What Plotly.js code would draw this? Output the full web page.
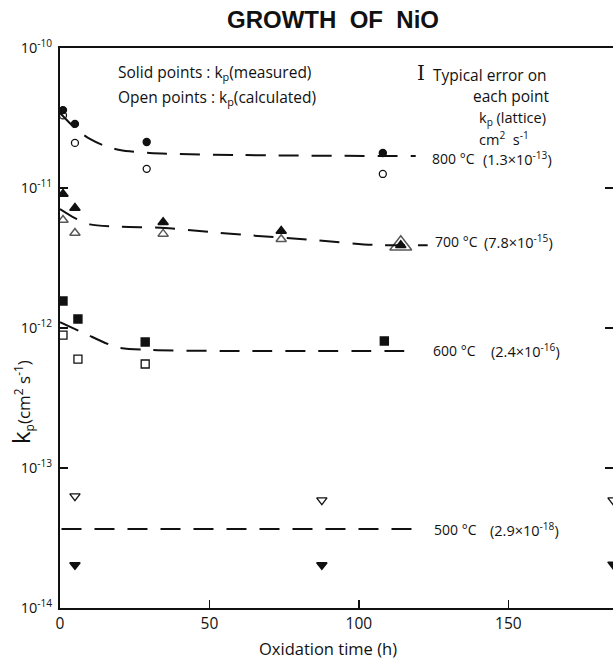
<!DOCTYPE html>
<html>
<head>
<meta charset="utf-8">
<script src="https://cdn.plot.ly/plotly-3.0.1.min.js"></script>
<style>html,body{margin:0;padding:0;background:#fff;}#chart{width:613px;height:660px;}</style>
</head>
<body>
<div id="chart"></div>
<script>
// ---- data ----
const t800_meas = [1, 5, 29, 108];
const k800_meas = [3.6e-11, 2.87e-11, 2.13e-11, 1.78e-11];
const t800_calc = [1, 5, 29, 108];
const k800_calc = [3.3e-11, 2.1e-11, 1.37e-11, 1.26e-11];
const fit800_t = [0, 5, 10, 15, 20, 30, 60, 119];
const fit800_k = [3.43e-11, 2.68e-11, 2.24e-11, 2.0e-11, 1.87e-11, 1.78e-11, 1.72e-11, 1.69e-11];

const t700_meas = [1, 5, 34.5, 74, 114];
const k700_meas = [9.06e-12, 7.2e-12, 5.7e-12, 4.93e-12, 3.9e-12];
const t700_calc = [1, 5, 34.5, 74, 114];
const k700_calc = [5.9e-12, 4.77e-12, 4.7e-12, 4.3e-12, 3.9e-12];
const fit700_t = [0, 5, 10, 20, 35, 50, 63, 85, 105, 123];
const fit700_k = [7.08e-12, 6.1e-12, 5.5e-12, 5.3e-12, 5.18e-12, 4.85e-12, 4.6e-12, 4.25e-12, 3.92e-12, 3.9e-12];

const t600_meas = [1, 6, 28.5, 108.5];
const k600_meas = [1.56e-12, 1.16e-12, 7.94e-13, 8.07e-13];
const t600_calc = [1, 6, 28.5];
const k600_calc = [8.9e-13, 6.0e-13, 5.53e-13];
const fit600_t = [0, 8, 19, 30, 60, 118.7];
const fit600_k = [1.1e-12, 9.2e-13, 7.3e-13, 6.97e-13, 6.85e-13, 6.85e-13];

const t500_meas = [5, 87.6, 185];
const k500_meas = [2.03e-14, 2.03e-14, 2.05e-14];
const t500_calc = [5, 87.6, 185];
const k500_calc = [6.3e-14, 5.9e-14, 5.9e-14];
const fit500_t = [0.5, 118];
const fit500_k = [3.67e-14, 3.67e-14];

const temps = ['800 °C', '700 °C', '600 °C', '500 °C'];
const latticeKp = ['(1.3×10<sup>-13</sup>)', '(7.8×10<sup>-15</sup>)', '(2.4×10<sup>-16</sup>)', '(2.9×10<sup>-18</sup>)'];
const yTickVals = [1e-10, 1e-11, 1e-12, 1e-13, 1e-14];
const yTickText = ['10<sup>-10</sup>', '10<sup>-11</sup>', '10<sup>-12</sup>', '10<sup>-13</sup>', '10<sup>-14</sup>'];
const xTickVals = [0, 50, 100, 150];

// ---- styling / geometry ----
const W = 613, H = 660, L = 60, R = 613, T = 48, B = 608;
const px = x => (x - L) / (R - L);
const py = y => (B - y) / (B - T);
const FONT = 'Open Sans, Lato, sans-serif';
const dashStyle = {color: '#111', width: 2, dash: '20px,13px'};

function fit(x, y) {
  return {x: x, y: y, mode: 'lines', line: Object.assign({shape: 'spline', smoothing: 0.8}, dashStyle), hoverinfo: 'skip', showlegend: false};
}
function pts(x, y, sym, size, lw) {
  return {x: x, y: y, mode: 'markers', showlegend: false,
    marker: {symbol: sym, size: size, color: '#111', line: {color: '#111', width: lw || 1.4}}};
}

const calc700 = pts(t700_calc, k700_calc, 'triangle-up-open', [9, 9, 9, 9, 19], 1.5);

const traces = [
  fit(fit800_t, fit800_k), fit(fit700_t, fit700_k), fit(fit600_t, fit600_k), fit(fit500_t, fit500_k),
  pts(t800_meas, k800_meas, 'circle', 7), pts(t800_calc, k800_calc, 'circle-open', 7, 1.3),
  pts(t700_meas, k700_meas, 'triangle-up', 9), calc700,
  pts(t600_meas, k600_meas, 'square', 8), pts(t600_calc, k600_calc, 'square-open', 8, 1.3),
  pts(t500_meas, k500_meas, 'triangle-down', 9), pts(t500_calc, k500_calc, 'triangle-down-open', 9, 1.3),
  {x: [0], y: [1e-12], yaxis: 'y2', mode: 'markers', marker: {opacity: 0}, hoverinfo: 'skip', showlegend: false}
];

function ann(text, x, y, opts) {
  return Object.assign({text: text, x: px(x), y: py(y), xref: 'paper', yref: 'paper', showarrow: false,
    xanchor: 'left', yanchor: 'middle', font: {family: FONT, size: 15.5, color: '#111'}}, opts || {});
}
const small = {family: FONT, size: 14.5, color: '#111'};

const labelY = [158, 241, 350, 529];
const tempX = [430, 433, 431, 432];
const valX = [481, 482, 489, 488];
const annotations = [
  ann('Solid points : k<sub>p</sub>(measured)', 116, 73),
  ann('Open points : k<sub>p</sub>(calculated)', 116, 97),
  ann('I', 415, 73, {font: {family: 'DejaVu Serif, serif', size: 20, color: '#111'}}),
  ann('Typical error on', 431, 75),
  ann('each point', 471, 96),
  ann('k<sub>p</sub> (lattice)', 477, 118, {font: small}),
  ann('cm<sup>2</sup>  s<sup>-1</sup>', 477, 138, {font: small}),
  ann('<span style="font-size:24px">k</span><sub>p</sub>(cm<sup>2</sup> s<sup>-1</sup>)', 20, 402,
      {xanchor: 'center', textangle: -90, font: {family: FONT, size: 17, color: '#111'}}),
  ann('Oxidation time (h)', 328, 648, {xanchor: 'center', font: {family: FONT, size: 16.5, color: '#111'}})
];
temps.forEach((t, i) => {
  annotations.push(ann(t, tempX[i], labelY[i], {font: {family: FONT, size: 14, color: '#111'}}));
  annotations.push(ann(latticeKp[i], valX[i], labelY[i], {font: {family: FONT, size: 14.5, color: '#111'}}));
});

const layout = {
  width: W, height: H,
  margin: {l: L, r: W - R, t: T, b: H - B, pad: 0},
  paper_bgcolor: '#fff', plot_bgcolor: '#fff',
  title: {text: '<b>GROWTH  OF  NiO</b>', x: 333 / W, xanchor: 'center', y: 1 - 20 / H, yanchor: 'middle',
          font: {family: 'Liberation Sans, Arial, sans-serif', size: 24, color: '#111'}},
  showlegend: false,
  xaxis: {range: [0, 185], showgrid: false, zeroline: false, showline: true, linecolor: '#111', linewidth: 2,
          mirror: true, ticks: 'inside', ticklen: 8, tickwidth: 1.5, tickcolor: '#111',
          tickvals: xTickVals, ticktext: xTickVals.map(String),
          tickfont: {family: FONT, size: 15.5, color: '#111'}},
  yaxis: {type: 'log', range: [-14, -10], showgrid: false, zeroline: false, showline: true, linecolor: '#111', linewidth: 2,
          ticks: 'inside', ticklen: 8, tickwidth: 1.5, tickcolor: '#111',
          tickvals: yTickVals, ticktext: yTickText, ticklabelstandoff: 3,
          tickfont: {family: FONT, size: 14.5, color: '#111'}},
  yaxis2: {type: 'log', range: [-14, -10], overlaying: 'y', side: 'right', showgrid: false, zeroline: false,
           showline: false, ticks: 'inside', ticklen: 8, tickwidth: 1.5, tickcolor: '#111',
           tickvals: [1e-11, 1e-12, 1e-13], showticklabels: false},
  annotations: annotations
};

Plotly.newPlot('chart', traces, layout, {displayModeBar: false, staticPlot: true});
</script>
</body>
</html>
